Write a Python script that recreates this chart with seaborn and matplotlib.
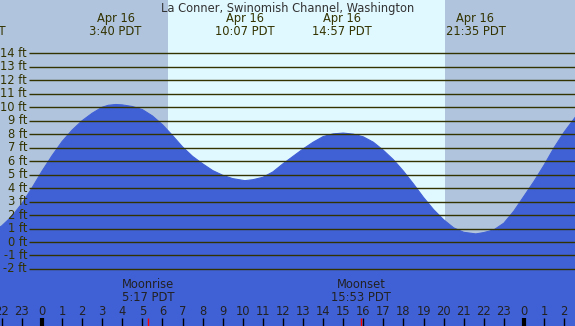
import numpy as np
import pandas as pd
import matplotlib
matplotlib.use("Agg")
import matplotlib.pyplot as plt
import matplotlib.transforms as mtransforms
import seaborn as sns

sns.set_style("white")
plt.rcParams['font.family'] = ['DejaVu Sans']

# tide heights (hours from midnight Apr 16, feet)
hours = [-2.1, -2, -1.5, -1, -0.5, 0, 0.5, 1, 1.5, 2, 2.5, 3, 3.3, 3.67, 4, 4.5, 5, 5.5,
         6, 6.5, 7, 7.5, 8, 8.5, 9, 9.5, 10.1, 10.5, 11, 11.5, 12, 12.5, 13, 13.5,
         14, 14.5, 15, 15.5, 16, 16.5, 17, 17.5, 18, 18.5, 19, 19.5, 20, 20.5, 21,
         21.6, 22, 22.5, 23, 23.5, 24, 24.5, 25, 25.5, 26, 26.6]
heights = [1.1, 1.2, 1.9, 2.85, 4.0, 5.25, 6.4, 7.45, 8.3, 9.0, 9.55, 10.0, 10.14, 10.2, 10.17, 10.05, 9.82, 9.35,
           8.7, 7.9, 7.05, 6.35, 5.8, 5.3, 4.95, 4.7, 4.55, 4.62, 4.8, 5.2, 5.8, 6.35, 6.9, 7.4,
           7.82, 8.02, 8.08, 8.0, 7.8, 7.4, 6.8, 6.1, 5.25, 4.3, 3.3, 2.4, 1.65, 1.05, 0.72,
           0.6, 0.7, 0.9, 1.4, 2.3, 3.4, 4.5, 5.7, 7.0, 8.15, 9.35]

# high / low labels at the top
extreme_hours = [-3.3, 3.667, 10.117, 14.95, 21.583]
extreme_labels = ["Apr 15\n20:18 PDT", "Apr 16\n3:40 PDT", "Apr 16\n10:07 PDT",
                  "Apr 16\n14:57 PDT", "Apr 16\n21:35 PDT"]

sunrise = 6.27
sunset = 20.07
moon_hours = [5.283, 15.883]
moon_labels = ["Moonrise\n5:17 PDT", "Moonset\n15:53 PDT"]

ft_levels = list(range(-2, 15))
hour_ticks = list(range(-2, 27))
hour_labels = [str(h % 24) for h in hour_ticks]

title = "La Conner, Swinomish Channel, Washington"

night_col = "#b0c4de"
day_col = "#e0f8ff"
water_col = "#4060d6"
line_col = "#333300"
txt_col = "#333300"

df = pd.DataFrame({"hour": hours, "height": heights})

fig = plt.figure(figsize=(5.75, 3.26), dpi=100, facecolor=night_col)
ax = fig.add_axes([0, 0, 1, 1])
xmin, xmax = -2.09, 26.54
ymin, ymax = -6.23, 17.95
ax.set_xlim(xmin, xmax)
ax.set_ylim(ymin, ymax)
ax.set_facecolor(night_col)
ax.axvspan(sunrise, sunset, color=day_col, lw=0, zorder=0)

sns.lineplot(data=df, x="hour", y="height", color=water_col, lw=0.8, ax=ax, zorder=2)
ax.fill_between(df["hour"], df["height"], ymin, color=water_col, lw=0, zorder=2)

# horizontal level lines with labels
for lv in ft_levels:
    ax.hlines(lv, -0.65, xmax, color=line_col, lw=1.0, zorder=3)
    ax.text(-0.74, lv, "%d ft" % lv, ha="right", va="center", fontsize=8.3, color=txt_col, zorder=4)

ax.text(0.5, 0.975, title, transform=ax.transAxes, ha="center", va="center",
        fontsize=8.3, color="#333333")
for h, lab in zip(extreme_hours, extreme_labels):
    ax.text(h, 15.15, lab, ha="center", va="bottom", fontsize=8.3, color=txt_col,
            linespacing=0.95)

# hour ticks along bottom
trans = mtransforms.blended_transform_factory(ax.transData, ax.transAxes)
for h, lab in zip(hour_ticks, hour_labels):
    w = 3 if h % 24 == 0 else 1
    ax.vlines(h, 0, 0.024, transform=trans, color="black", lw=w, zorder=4)
    ax.text(h, 0.045, lab, transform=trans, ha="center", va="center", fontsize=8.3, color="#222222")
for h, lab in zip(moon_hours, moon_labels):
    ax.vlines(h, 0, 0.024, transform=trans, color="red", lw=1, zorder=5)
    ax.text(h, 0.068, lab, transform=trans, ha="center", va="bottom", fontsize=8.3,
            color="#222222", linespacing=0.95)

ax.set_xticks([])
ax.set_yticks([])
for s in ax.spines.values():
    s.set_visible(False)
ax.set_xlabel("")
ax.set_ylabel("")
fig.savefig("out.png", dpi=100, facecolor=night_col)
